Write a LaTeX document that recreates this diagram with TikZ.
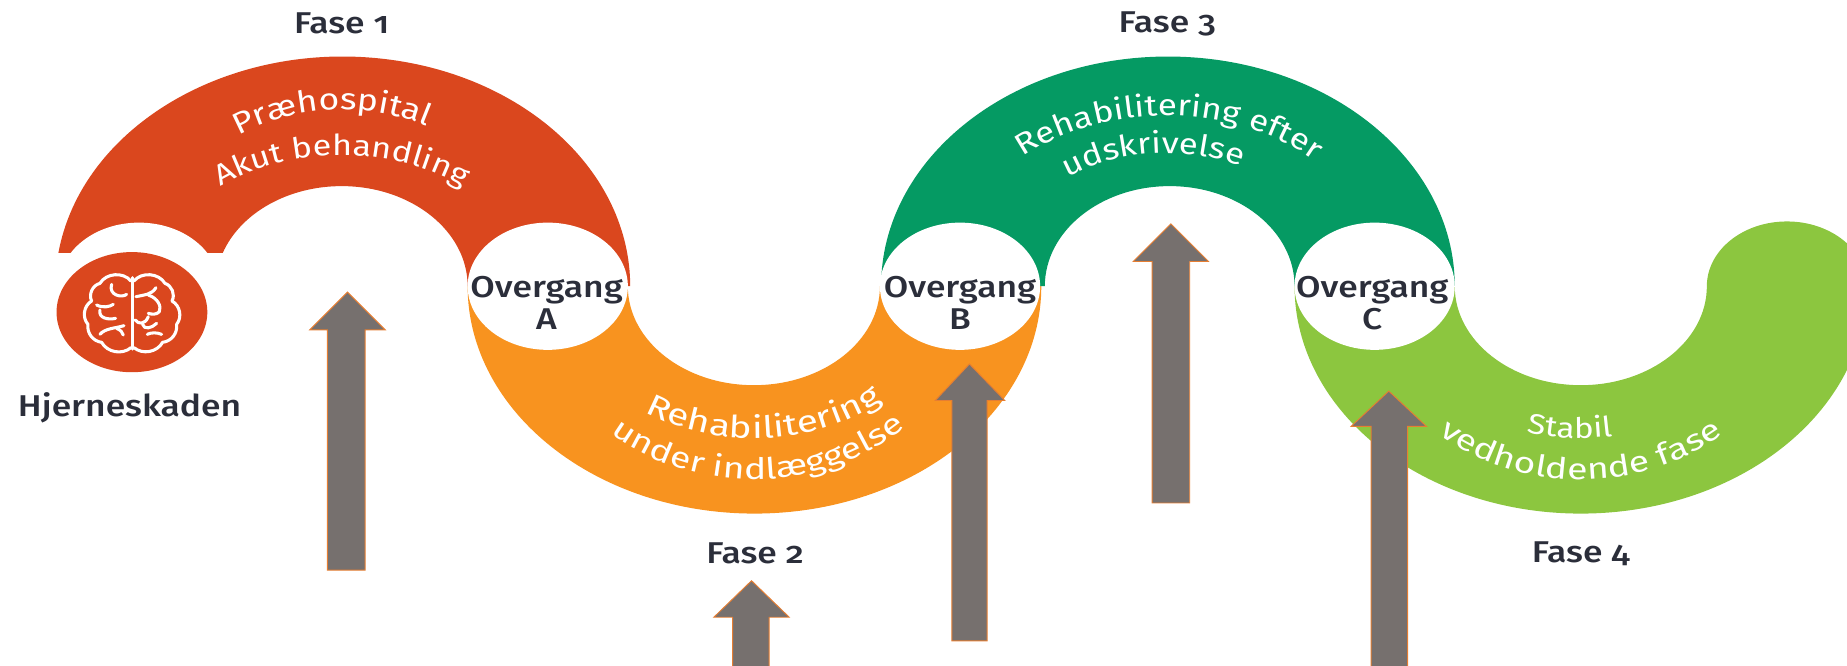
\documentclass[tikz,border=0pt]{standalone}
\usepackage{fontspec}
\usetikzlibrary{shapes.geometric,decorations.text}
\setmainfont[Numbers=OldStyle]{Fira Sans}
\newfontfamily\labelfont[FakeStretch=1.18,Numbers=OldStyle]{Fira Sans Medium}
\newfontfamily\curvefont[FakeStretch=1.18]{Fira Sans}
\newfontfamily\widecurvefont[FakeStretch=1.27]{Fira Sans}
\definecolor{redc}{HTML}{DA471E}
\definecolor{orangec}{HTML}{F8931F}
\definecolor{greenc}{HTML}{059A63}
\definecolor{limec}{HTML}{8CC63F}
\definecolor{inkc}{HTML}{2B2E3A}
\definecolor{arrowgrey}{HTML}{76706E}
\definecolor{arrowedge}{HTML}{E67E32}
\newcommand{\curvesize}[2]{#1\fontsize{#2}{#2}\selectfont\color{white}}
\tikzset{
  lbl/.style={font=\labelfont\fontsize{25.5}{27}\selectfont,text=inkc,inner sep=0pt,align=center},
  hole/.style={ellipse,fill=white,minimum width=136pt,minimum height=108pt,inner sep=0pt},
  blockarrow/.style={fill=arrowgrey,draw=arrowedge,line width=.8pt,line join=miter},
  brainline/.style={draw=white,line width=2.6pt,line cap=round,line join=round},
  curved/.style n args={3}{decorate,decoration={text along path,text align=center,text={|\curvesize{#1}{#2}|#3}}}
}
\begin{document}
\begin{tikzpicture}[x=1pt,y=1pt]
\useasboundingbox (0,0) rectangle (1568,565);
\clip (0,0) rectangle (1568,565);
% bands
\fill[redc] (290,322) ++(171.74:243pt and 195pt) arc[start angle=171.74,end angle=0,x radius=244pt,y radius=195pt]
  -- (397,322) arc[start angle=0,end angle=160.8,x radius=107pt,y radius=85pt] -- cycle;
\fill[orangec] (397,322) arc[start angle=180,end angle=360,x radius=243.5pt,y radius=193pt]
  -- (747,322) arc[start angle=360,end angle=180,x radius=107pt,y radius=84pt] -- cycle;
\fill[greenc] (748,322) arc[start angle=180,end angle=0,x radius=243.5pt,y radius=195pt]
  -- (1099,322) arc[start angle=0,end angle=180,x radius=106pt,y radius=85pt] -- cycle;
\fill[limec] (1099,322) arc[start angle=180,end angle=360,x radius=243pt,y radius=193pt]
  arc[start angle=0,end angle=180,x radius=68pt,y radius=55pt]
  arc[start angle=360,end angle=180,x radius=107pt,y radius=84pt] -- cycle;
% white bites
\node[hole] (bite) at (118,322) {};
\node[hole] (holeA) at (465,322) {};
\node[hole] (holeB) at (815,322) {};
\node[hole] (holeC) at (1167,322) {};
% left gap under the bite
\fill[white] (40,300) rectangle (190,350);
% brain badge
\node[ellipse,fill=redc,minimum width=128pt,minimum height=102pt,inner sep=0pt] (badge) at (112,300) {};
\begin{scope}[shift={(42.4,357)},xscale=0.283,yscale=-0.283]
\draw[brainline] (247,98) -- (247,312);
\draw[brainline] (243,108) to[bend left=55] (150,115) to[bend left=50] (125,168) to[bend left=50] (114,238) to[bend left=45] (155,292) to[bend left=50] (243,308);
\draw[brainline] (252,108) to[bend right=55] (345,115) to[bend right=50] (366,168) to[bend right=50] (380,238) to[bend right=45] (338,292) to[bend right=50] (252,308);
\draw[brainline] (185,118) .. controls (175,150) and (215,160) .. (230,148);
\draw[brainline] (140,180) .. controls (160,190) and (180,185) .. (190,178);
\draw[brainline] (150,195) .. controls (145,220) and (175,225) .. (197,220);
\draw[brainline] (150,268) .. controls (165,250) and (195,250) .. (222,242);
\draw[brainline] (200,250) .. controls (212,255) and (218,262) .. (220,270);
\draw[brainline] (318,128) .. controls (305,150) and (280,150) .. (258,155);
\draw[brainline] (295,150) .. controls (325,160) and (335,185) .. (328,200) .. controls (320,210) and (305,208) .. (295,205);
\draw[brainline] (256,225) .. controls (265,238) and (285,240) .. (295,215);
\draw[brainline] (278,238) .. controls (282,255) and (305,250) .. (320,235);
\draw[brainline] (292,268) .. controls (305,262) and (320,262) .. (335,268);
\end{scope}
% arrows
\draw[blockarrow] (295,317) -- (327,285) -- (310,285) -- (310,81) -- (278,81) -- (278,285) -- (263,285) -- cycle;
\draw[blockarrow] (638,72) -- (670,41) -- (653,41) -- (653,-10) -- (622,-10) -- (622,41) -- (606,41) -- cycle;
\draw[blockarrow] (823,256) -- (853,225) -- (838,225) -- (838,21) -- (808,21) -- (808,225) -- (794,225) -- cycle;
\draw[blockarrow] (994,375) -- (1026,343) -- (1010,343) -- (1010,138) -- (978,138) -- (978,343) -- (962,343) -- cycle;
\draw[blockarrow] (1179,233) -- (1211,203) -- (1195,203) -- (1195,-10) -- (1164,-10) -- (1164,203) -- (1147,203) -- cycle;
% outer labels
\node[lbl] (f1) at (290,545) {Fase 1};
\node[lbl] (f2) at (641,95) {Fase 2};
\node[lbl] (f3) at (991,545) {Fase 3};
\node[lbl] (f4) at (1342,95) {Fase 4};
\node[lbl] (hj) at (110,219) {Hjerneskaden};
\node[lbl] (ovA) at (464,308) {Overgang\\A};
\node[lbl] (ovB) at (815,308) {Overgang\\B};
\node[lbl] (ovC) at (1165,308) {Overgang\\C};
% curved texts
\path[curved={\curvefont}{25.5}{Præhospital}] (290,322) ++(143:169pt and 150pt) arc[start angle=143,end angle=43,x radius=169pt,y radius=150pt];
\path[curved={\curvefont}{24.6}{Akut behandling}] (290,322) ++(150:158pt and 111pt) arc[start angle=150,end angle=30,x radius=158pt,y radius=111pt];
\path[curved={\widecurvefont}{26}{Rehabilitering}] (640,322) ++(205:165pt and 129pt) arc[start angle=205,end angle=343,x radius=165pt,y radius=129pt];
\path[curved={\widecurvefont}{25}{under indlæggelse}] (640,322) ++(205:188pt and 164pt) arc[start angle=205,end angle=338,x radius=188pt,y radius=164pt];
\path[curved={\curvefont}{25.2}{Rehabilitering efter}] (990,322) ++(150:186pt and 145pt) arc[start angle=150,end angle=28,x radius=186pt,y radius=145pt];
\path[curved={\curvefont}{25}{udskrivelse}] (990,322) ++(145:145pt and 113pt) arc[start angle=145,end angle=45,x radius=145pt,y radius=113pt];
\path[curved={\curvefont}{24}{Stabil}] (1342,322) ++(205:165pt and 129pt) arc[start angle=205,end angle=327,x radius=165pt,y radius=129pt];
\path[curved={\widecurvefont}{25}{vedholdende fase}] (1342,322) ++(210:188pt and 164pt) arc[start angle=210,end angle=330,x radius=188pt,y radius=164pt];
\end{tikzpicture}
\end{document}
